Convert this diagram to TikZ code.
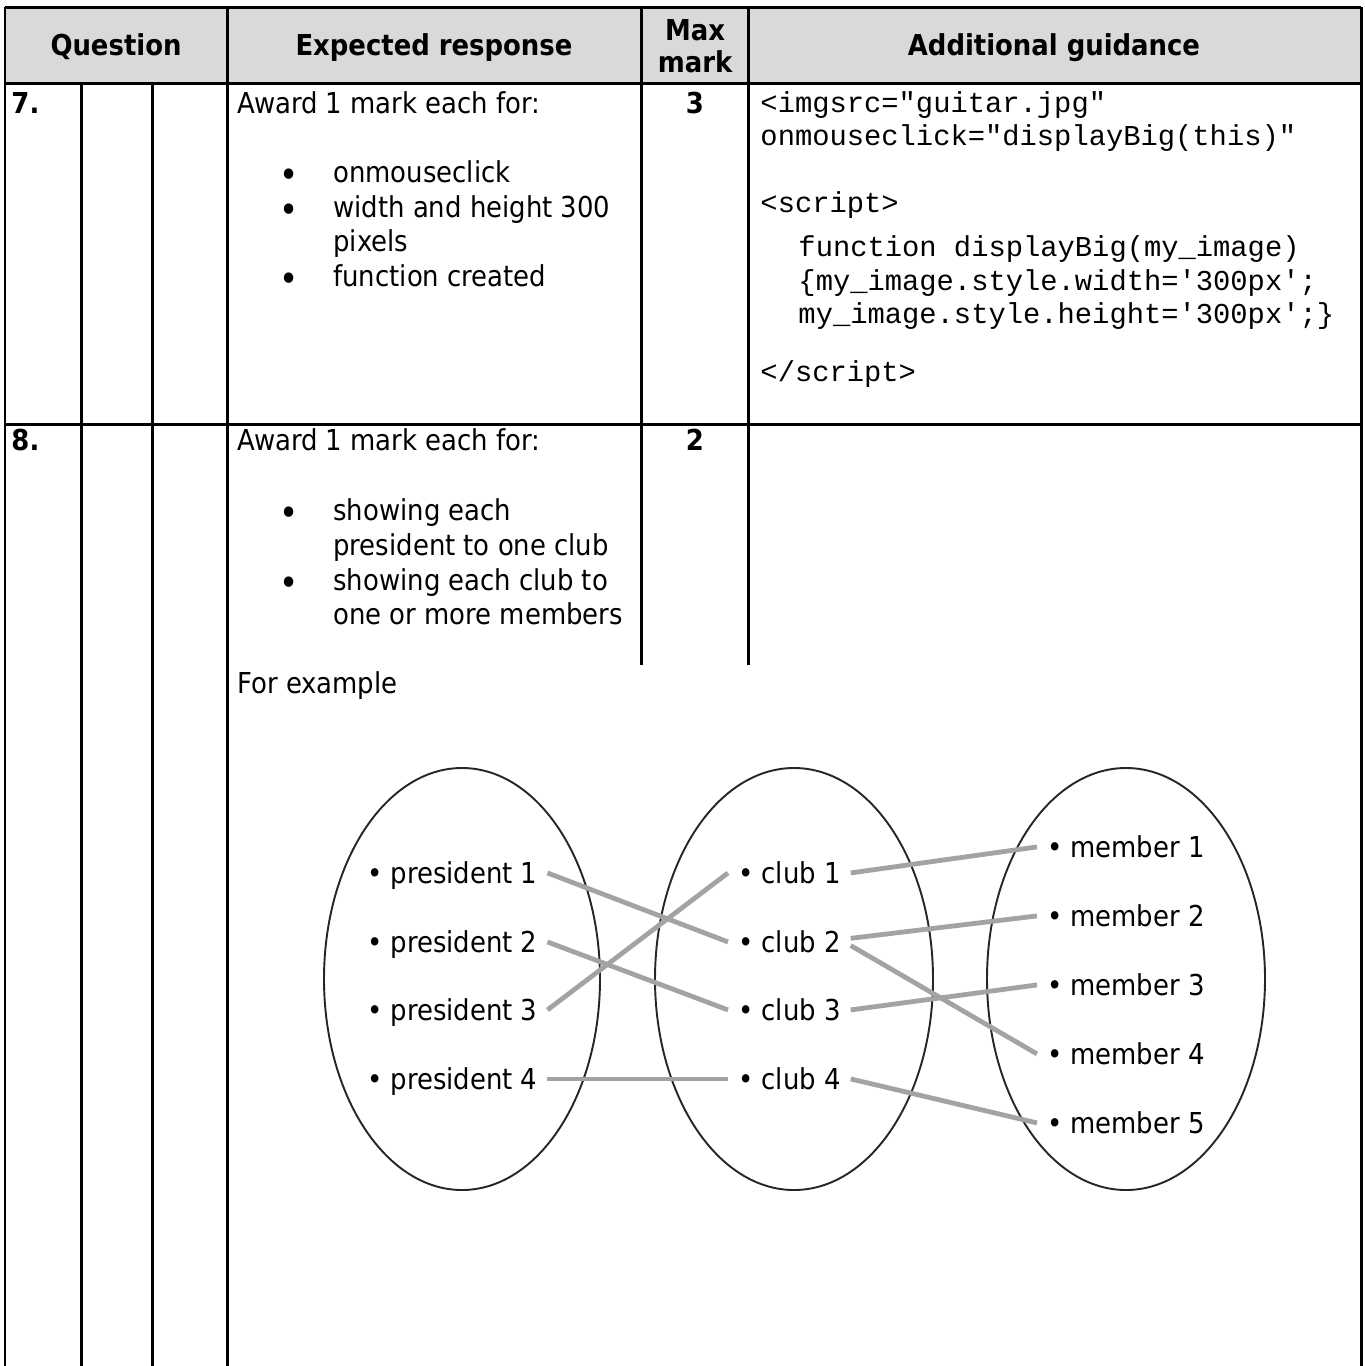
\documentclass[tikz,border=0pt]{standalone}
\usepackage{fontspec}
\setmainfont{DejaVu Sans Condensed}
\setmonofont{Liberation Mono}
\definecolor{hdrgray}{HTML}{D9D9D9}
\definecolor{linkgray}{HTML}{A3A3A3}
\begin{document}
\begin{tikzpicture}[x=0.4167pt,y=-0.4167pt,
  tline/.style={line width=1.25pt},
  txt/.style={anchor=base west, inner sep=0pt, font=\fontsize{12}{14.5}\selectfont},
  hdr/.style={anchor=base, inner sep=0pt, font=\bfseries\fontsize{12}{14.5}\selectfont},
  mk/.style={anchor=base, inner sep=0pt, font=\bfseries\fontsize{12}{14.5}\selectfont},
  codetxt/.style={anchor=base west, inner sep=0pt, font=\ttfamily\fontsize{12}{14}\selectfont},
  bul/.style={anchor=base, inner sep=0pt, font=\fontsize{15}{15}\selectfont},
  item/.style={anchor=base west, inner xsep=4pt, inner ysep=0pt, text height=11pt, text depth=2.6pt, font=\fontsize{12}{14.5}\selectfont},
  link/.style={draw=linkgray, line width=2pt},
  setell/.style={draw=black!85, line width=0.8pt}]
\useasboundingbox (0,0) rectangle (1365,1366);
% header
\fill[hdrgray] (5,7) rectangle (1361,83);
\draw[tline] (5,7) -- (1361,7);
\draw[tline] (5,83) -- (1361,83);
\draw[tline] (5,424) -- (1361,424);
\draw[tline] (5,7) -- (5,1366);
\draw[tline] (227,7) -- (227,1366);
\draw[tline] (1361,7) -- (1361,1366);
\draw[tline] (81,83) -- (81,1366);
\draw[tline] (152,83) -- (152,1366);
\draw[tline] (641,7) -- (641,665);
\draw[tline] (748,7) -- (748,665);
\node[hdr] (hq) at (116,55) {Question};
\node[hdr] (he) at (434,55) {Expected response};
\node[hdr] (hm1) at (695,40) {Max};
\node[hdr] (hm2) at (695,72) {mark};
\node[hdr] (ha) at (1054,55) {Additional guidance};
% row 7
\node[mk, anchor=base west] (q7) at (11,113) {7.};
\node[txt] (a7) at (237,113) {Award 1 mark each for:};
\node[mk] (m7) at (695,113) {3};
\node[bul] (b71) at (289,187) {•};
\node[txt] (t71) at (333,182) {onmouseclick};
\node[bul] (b72) at (289,222) {•};
\node[txt] (t72) at (333,217) {width and height 300};
\node[txt] (t73) at (333,251) {pixels};
\node[bul] (b74) at (289,291) {•};
\node[txt] (t74) at (333,286) {function created};
\node[codetxt] (c1) at (760,112) {<imgsrc="guitar.jpg"};
\node[codetxt] (c2) at (760,145) {onmouseclick="displayBig(this)"};
\node[codetxt] (c3) at (760,212) {<script>};
\node[codetxt] (c4) at (798,256) {function displayBig(my\_image)};
\node[codetxt] (c5) at (798,290) {\{my\_image.style.width='300px';};
\node[codetxt] (c6) at (798,323) {my\_image.style.height='300px';\}};
\node[codetxt] (c7) at (760,381) {</script>};
% row 8
\node[mk, anchor=base west] (q8) at (11,450) {8.};
\node[txt] (a8) at (237,450) {Award 1 mark each for:};
\node[mk] (m8) at (695,450) {2};
\node[bul] (b81) at (289,525) {•};
\node[txt] (t81) at (333,520) {showing each};
\node[txt] (t82) at (333,555) {president to one club};
\node[bul] (b83) at (289,595) {•};
\node[txt] (t83) at (333,590) {showing each club to};
\node[txt] (t84) at (333,624) {one or more members};
\node[txt] (fe) at (237,693) {For example};
% diagram
\draw[setell] (462,979) ellipse [x radius=138, y radius=211];
\draw[setell] (794,979) ellipse [x radius=139, y radius=211];
\draw[setell] (1126,979) ellipse [x radius=139, y radius=211];
\node[item] (p1) at (357,883) {• president 1};
\node[item] (p2) at (357,952) {• president 2};
\node[item] (p3) at (357,1020) {• president 3};
\node[item] (p4) at (357,1089) {• president 4};
\node[item] (k1) at (728,883) {• club 1};
\node[item] (k2) at (728,952) {• club 2};
\node[item] (k3) at (728,1020) {• club 3};
\node[item] (k4) at (728,1089) {• club 4};
\node[item] (r1) at (1037,857) {• member 1};
\node[item] (r2) at (1037,926) {• member 2};
\node[item] (r3) at (1037,995) {• member 3};
\node[item] (r4) at (1037,1064) {• member 4};
\node[item] (r5) at (1037,1133) {• member 5};
\draw[link] (p1.east) -- (k2.west);
\draw[link] (p2.east) -- (k3.west);
\draw[link] (p3.east) -- (k1.west);
\draw[link] (p4.east) -- (k4.west);
\draw[link] (k1.east) -- (r1.west);
\draw[link] ([yshift=1.5pt]k2.east) -- (r2.west);
\draw[link] ([yshift=-1.5pt]k2.east) -- (r4.west);
\draw[link] (k3.east) -- (r3.west);
\draw[link] (k4.east) -- (r5.west);
\end{tikzpicture}
\end{document}
